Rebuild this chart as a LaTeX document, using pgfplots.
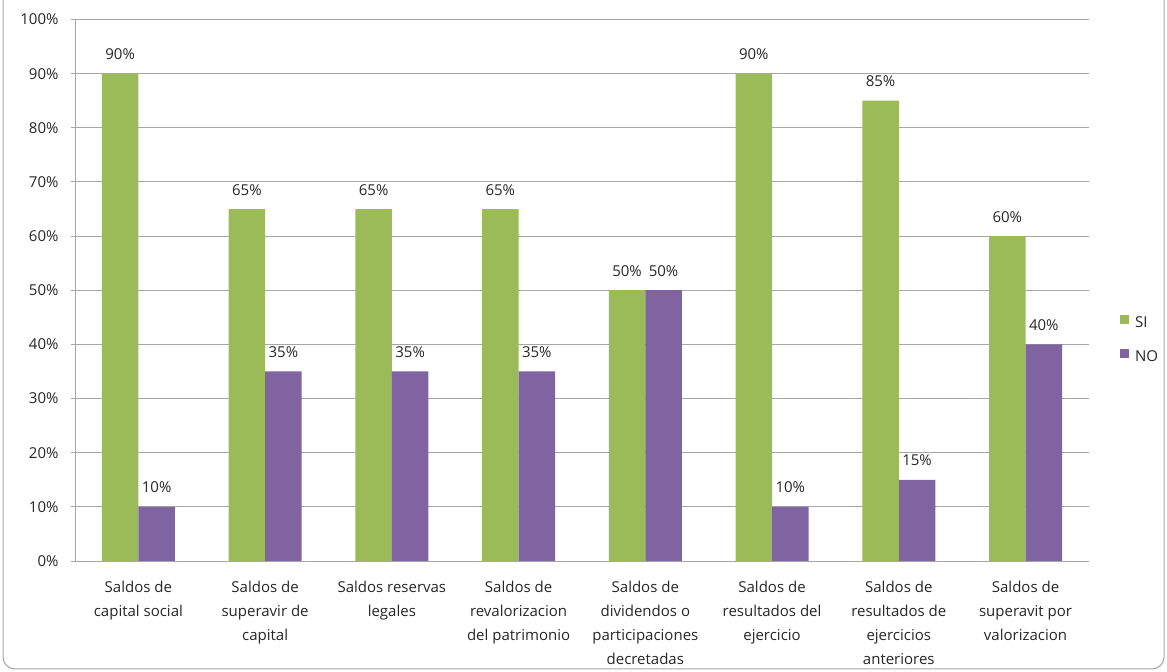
\documentclass[border=0pt]{standalone}
\usepackage{fontspec}
\setmainfont{Open Sans}
\usepackage{pgfplots}
\pgfplotsset{compat=1.18}
\definecolor{siG}{HTML}{9BBB59}
\definecolor{noP}{HTML}{8064A2}
\definecolor{gridc}{HTML}{A6A6A6}
\definecolor{txt}{HTML}{262626}
\begin{document}
\begin{tikzpicture}
\useasboundingbox (0bp,0bp) rectangle (1167bp,672bp);
\begin{scope}
\clip (0bp,0bp) rectangle (1167bp,672bp);
\draw[gray!70, line width=1bp, rounded corners=12bp] (3bp,3bp) rectangle (1164bp,700bp);
\end{scope}
\begin{axis}[
  at={(75bp,111bp)}, anchor=south west,
  scale only axis, width=1014bp, height=541.5bp,
  ybar=0pt, bar width=36.5bp,
  xmin=-0.5, xmax=7.5, ymin=0, ymax=100,
  ytick={0,10,...,100},
  yticklabel={\pgfmathprintnumber{\tick}\%},
  /pgf/number format/assume math mode=true,
  xtick={0,...,7},
  xticklabels={{Saldos de\\capital social},{Saldos de\\superavir de\\capital},{Saldos reservas\\legales},{Saldos de\\revalorizacion\\del patrimonio},{Saldos de\\dividendos o\\participaciones\\decretadas},{Saldos de\\resultados del\\ejercicio},{Saldos de\\resultados de\\ejercicios\\anteriores},{Saldos de\\superavit por\\valorizacion}},
  xticklabel style={align=center, font=\fontsize{15bp}{24bp}\selectfont, text=txt, yshift=-13bp},
  yticklabel style={font=\fontsize{15bp}{17bp}\selectfont, text=txt, xshift=-9bp},
  axis x line*=bottom, axis y line*=left,
  axis line style={gridc, line width=1bp},
  x axis line style={-}, y axis line style={-},
  ymajorgrids, grid style={gridc, line width=1bp},
  major x tick style={draw=none},
  major y tick style={gridc, line width=1bp},
  tick align=outside, major tick length=4bp,
  nodes near coords={\pgfmathprintnumber{\pgfplotspointmeta}\%},
  every node near coord/.append style={font=\fontsize{15bp}{17bp}\selectfont, text=txt, anchor=base, yshift=14bp},
  legend style={at={(1,0.408)}, anchor=west, xshift=31bp, draw=none, fill=none, inner sep=0pt, row sep=18bp, font=\fontsize{15bp}{17bp}\selectfont, text=txt},
  legend cell align=left,
  legend image code/.code={\fill[#1] (0bp,-1bp) rectangle (9bp,8bp);},
  /tikz/every odd column/.append style={column sep=4bp},
]
\addplot[fill=siG, draw=none] coordinates {(0,90) (1,65) (2,65) (3,65) (4,50) (5,90) (6,85) (7,60)};
\addplot[fill=noP, draw=none] coordinates {(0,10) (1,35) (2,35) (3,35) (4,50) (5,10) (6,15) (7,40)};
\legend{SI,NO}
\end{axis}
\end{tikzpicture}
\end{document}
